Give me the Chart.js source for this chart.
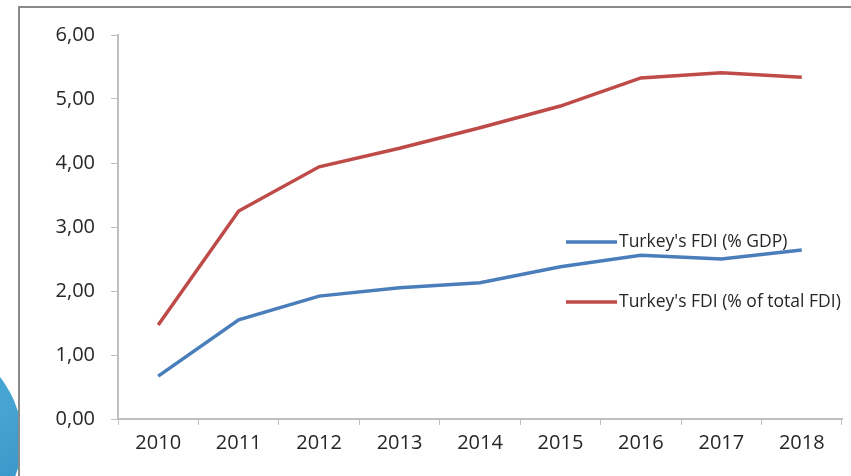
<!DOCTYPE html>
<html>
<head>
<meta charset="utf-8">
<script src="https://cdn.jsdelivr.net/npm/chart.js@4.4.1/dist/chart.umd.min.js"></script>
<style>
  html, body { margin: 0; padding: 0; background: #fff; overflow: hidden; }
  #wrap { position: relative; width: 851px; height: 476px; }
  #blob {
    position: absolute; left: -180px; top: 339px; width: 202px; height: 202px;
    border-radius: 50%;
    background: radial-gradient(circle at 80% 30%, #4aa9d6 0%, #3592c4 55%, #2a7fb5 100%);
  }
  #frame {
    position: absolute; left: 18px; top: 6px; width: 840px; height: 480px;
    border-top: 2px solid #8a8a8a; border-left: 2px solid #8a8a8a;
    background: #fff;
  }
  #c { position: absolute; left: 0; top: 0; }
</style>
</head>
<body>
<div id="wrap">
  <div id="blob"></div>
  <div id="frame"></div>
  <canvas id="c" width="851" height="476"></canvas>
</div>
<script>
const years = ['2010', '2011', '2012', '2013', '2014', '2015', '2016', '2017', '2018'];
const fdiGdp = [0.67, 1.55, 1.92, 2.05, 2.13, 2.38, 2.56, 2.50, 2.64];
const fdiTotal = [1.47, 3.25, 3.94, 4.23, 4.55, 4.89, 5.33, 5.41, 5.34];
const yTicks = [0, 1, 2, 3, 4, 5, 6];

const blue = '#4a7ebb';
const red = '#be4b48';
const font = "'Open Sans', 'Liberation Sans', sans-serif";
const textColor = '#262626';

// legend drawn inside the plot, like the original Excel chart
const insideLegend = {
    id: 'insideLegend',
    afterDraw(chart) {
        const ctx = chart.ctx;
        const rows = [[242, 0], [302, 1]];
        ctx.save();
        ctx.font = '17.5px ' + font;
        ctx.textBaseline = 'middle';
        rows.forEach(([y, i]) => {
            const ds = chart.data.datasets[i];
            ctx.strokeStyle = ds.borderColor;
            ctx.lineWidth = 3.5;
            ctx.beginPath();
            ctx.moveTo(566, y);
            ctx.lineTo(617, y);
            ctx.stroke();
            ctx.fillStyle = textColor;
            ctx.fillText(ds.label, 619, y);
        });
        ctx.restore();
    }
};

new Chart(document.getElementById('c'), {
    type: 'line',
    data: {
        labels: years,
        datasets: [
            { label: "Turkey's FDI (% GDP)", data: fdiGdp, borderColor: blue, borderWidth: 3.5, pointRadius: 0, tension: 0 },
            { label: "Turkey's FDI (% of total FDI)", data: fdiTotal, borderColor: red, borderWidth: 3.5, pointRadius: 0, tension: 0 }
        ]
    },
    options: {
        responsive: false,
        animation: false,
        layout: { padding: { top: 35, right: 9, left: 0, bottom: 0 } },
        plugins: { legend: { display: false }, tooltip: { enabled: false } },
        scales: {
            x: {
                offset: true,
                grid: { display: true, drawOnChartArea: false, color: '#bfbfbf', tickLength: 6, offset: true },
                border: { color: '#bfbfbf', width: 2 },
                ticks: { color: textColor, font: { family: font, size: 20 }, padding: 6, maxRotation: 0 },
                afterFit(scale) { scale.height = 57; }
            },
            y: {
                min: 0,
                max: 6,
                afterBuildTicks(scale) { scale.ticks = yTicks.map(v => ({ value: v })); },
                grid: { display: true, drawOnChartArea: false, color: '#bfbfbf', tickLength: 7 },
                border: { color: '#bfbfbf', width: 2 },
                ticks: {
                    color: textColor,
                    font: { family: font, size: 20 },
                    padding: 16,
                    callback: v => v.toFixed(2).replace('.', ',')
                },
                afterFit(scale) { scale.width = 118; }
            }
        }
    },
    plugins: [insideLegend]
});
</script>
</body>
</html>
